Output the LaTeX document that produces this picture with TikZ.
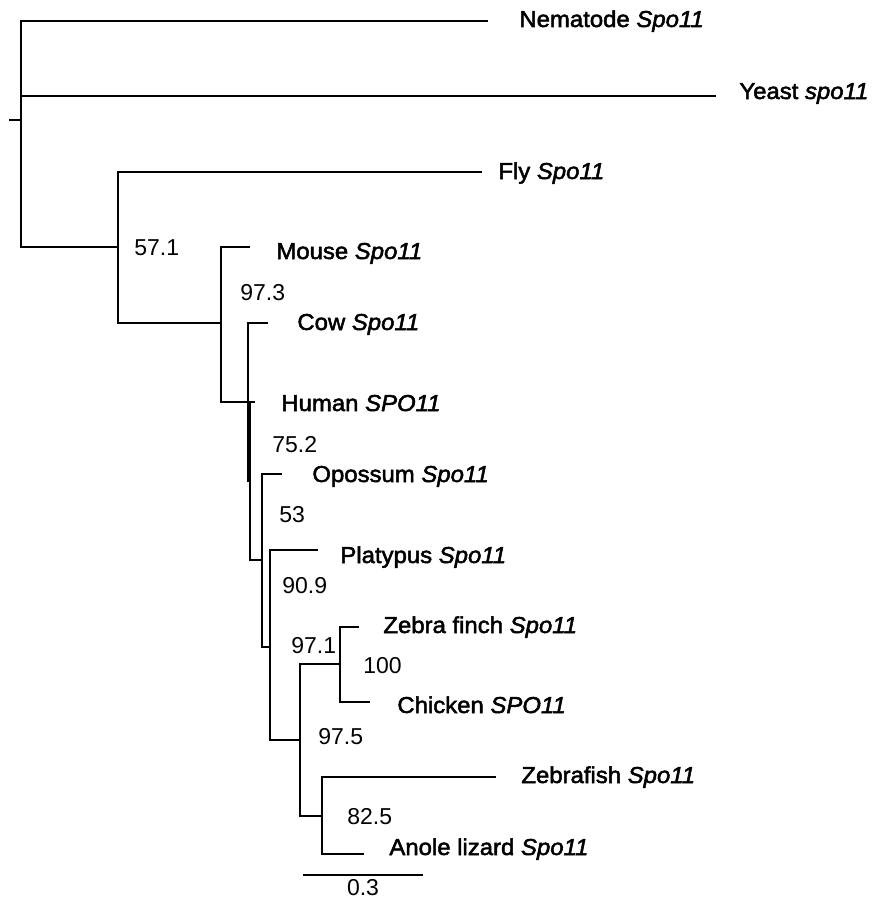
\documentclass[tikz,border=0pt]{standalone}
\usepackage{fontspec}
\setmainfont{Liberation Sans}
\newfontfamily\taxonfont[FakeStretch=1.04,FakeBold=2.2]{Liberation Sans}

\begin{document}
\begin{tikzpicture}[x=0.5pt,y=-0.5pt,
  branch/.style={line width=1.3pt},
  scalebar/.style={line width=0.6pt},
  taxon/.style={anchor=base west, inner sep=0pt, font=\taxonfont\fontsize{11.5}{13}\selectfont},
  boot/.style={anchor=base west, inner sep=0pt, font=\fontsize{11.5}{13}\selectfont}]
  \useasboundingbox (0,0) rectangle (881,899);
  % inner nodes
  \coordinate (root) at (21,120);
  \coordinate (stub) at (9,120);
  \coordinate (nA) at (118,247);
  \coordinate (nB) at (221,323);
  \coordinate (nC) at (248,402);
  \coordinate (nC2) at (250,481);
  \coordinate (nD) at (262,560);
  \coordinate (nE) at (270,647);
  \coordinate (nF) at (300,740);
  \coordinate (nG) at (340,664);
  \coordinate (nH) at (322,816);
  % tips
  \coordinate (tNem) at (488,21);
  \coordinate (tYst) at (716,96);
  \coordinate (tFly) at (482,172);
  \coordinate (tMou) at (250,247);
  \coordinate (tCow) at (268,323);
  \coordinate (tHum) at (255,402);
  \coordinate (tOpo) at (282,474);
  \coordinate (tPla) at (318,550);
  \coordinate (tZfi) at (359,627);
  \coordinate (tChi) at (370,702);
  \coordinate (tZfs) at (496,777);
  \coordinate (tAno) at (364,854);
  % branches
  \draw[branch] (stub) -- (root);
  \foreach \p/\c in {root/tNem, root/tYst, root/nA, nA/tFly, nA/nB, nB/tMou, nB/nC,
                     nC/tCow, nC/nC2, nC2/tHum, nC2/nD, nD/tOpo, nD/nE, nE/tPla, nE/nF,
                     nF/nG, nF/nH, nG/tZfi, nG/tChi, nH/tZfs, nH/tAno}
    \draw[branch] (\p) |- (\c);
  % taxa
  \node[taxon] (lNem) at (519,27) {Nematode \textit{Spo11}};
  \node[taxon] (lYst) at (739,99) {Yeast \textit{spo11}};
  \node[taxon] (lFly) at (498,179) {Fly \textit{Spo11}};
  \node[taxon] (lMou) at (276,259) {Mouse \textit{Spo11}};
  \node[taxon] (lCow) at (297,330) {Cow \textit{Spo11}};
  \node[taxon] (lHum) at (281,411) {Human \textit{SPO11}};
  \node[taxon] (lOpo) at (312,482) {Opossum \textit{Spo11}};
  \node[taxon] (lPla) at (340,563) {Platypus \textit{Spo11}};
  \node[taxon] (lZfi) at (383,633) {Zebra finch \textit{Spo11}};
  \node[taxon] (lChi) at (397,713) {Chicken \textit{SPO11}};
  \node[taxon] (lZfs) at (521,783) {Zebrafish \textit{Spo11}};
  \node[taxon] (lAno) at (389,855) {Anole lizard \textit{Spo11}};
  % bootstrap values
  \foreach \n/\x/\y/\v in {bA/134/255/57.1, bB/240/300/97.3, bC/272/452/75.2, bD/279/522/53,
                           bE/282/593/90.9, bF/291/653/97.1, bG/363/673/100, bH/318/744/97.5,
                           bI/347/824/82.5}
    \node[boot] (\n) at (\x,\y) {\v};
  % scale
  \coordinate (sbL) at (303,875);
  \coordinate (sbR) at (423,875);
  \draw[scalebar] (sbL) -- (sbR);
  \node[boot, anchor=base] (sbT) at (363,895) {0.3};
\end{tikzpicture}
\end{document}
